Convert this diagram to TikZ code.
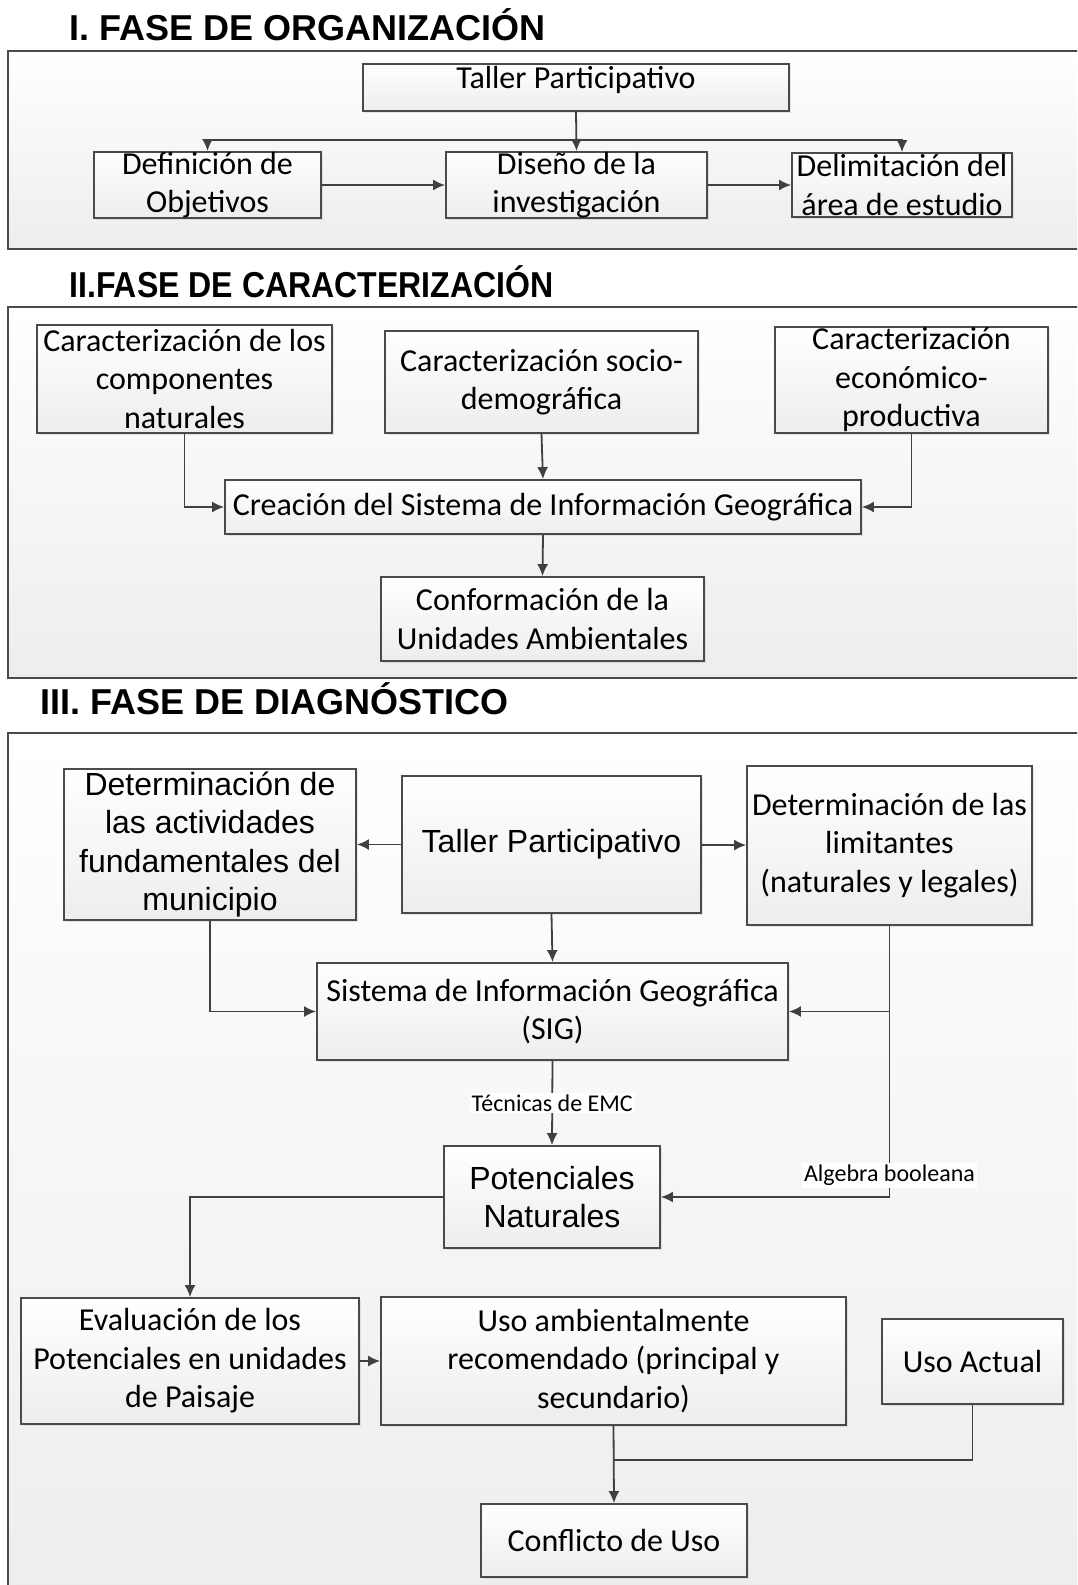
\documentclass[tikz,border=0pt]{standalone}
\usepackage{fontspec}
\setmainfont{Carlito}
\newfontfamily\arialfont{Liberation Sans}
\usetikzlibrary{arrows.meta,shadows}
\definecolor{linegray}{HTML}{404040}
\definecolor{boxedge}{HTML}{4A4A4A}
\tikzset{
  caja/.style={draw=boxedge, line width=0.9pt, top color=white, bottom color=black!7,
    align=center, inner sep=0pt, font=\fontsize{16}{19.25}\selectfont,
    drop shadow={opacity=0.18, shadow xshift=1pt, shadow yshift=-1pt}},
  cajaarial/.style={caja, font=\arialfont\fontsize{16}{19.25}\selectfont},
  marco/.style={draw=boxedge, line width=0.9pt, top color=white, bottom color=black!7},
  flecha/.style={draw=linegray, line width=0.9pt, -{Latex[length=6pt,width=5.5pt]}},
  linea/.style={draw=linegray, line width=0.9pt},
  titulo/.style={anchor=base west, inner sep=0pt, font=\arialfont\bfseries\fontsize{18}{21}\selectfont},
  etiqueta/.style={fill=white, inner sep=1pt, font=\fontsize{12}{14}\selectfont}
}
\begin{document}
\begin{tikzpicture}[x=0.5pt,y=-0.5pt]
\useasboundingbox (0,0) rectangle (1077,1585);
\clip (0,0) rectangle (1077,1585);

\draw[marco] (8,51) rectangle (1090,249);
\draw[marco] (8,307) rectangle (1090,678);
\draw[marco] (8,733) rectangle (1090,1600);

\draw (69,40) node[titulo] (tituloA) {I. FASE DE ORGANIZACIÓN};
\draw (69,297) node[titulo] (tituloB) {\scalebox{0.89}[1]{II.FASE DE CARACTERIZACIÓN}};
\draw (40,714) node[titulo] (tituloC) {III. FASE DE DIAGNÓSTICO};

\draw (576,87.5) node[caja,minimum width=213pt,text height=12pt,text depth=11.5pt] (tallerA) {Taller Participativo};
\draw (207.5,185) node[caja,minimum width=113.5pt,minimum height=32pt] (objetivos) {Definición de\\Objetivos};
\draw (576.5,185) node[caja,minimum width=130.5pt,minimum height=32pt] (diseno) {Diseño de la\\investigación};
\draw (902,185) node[caja,minimum width=110pt,minimum height=32pt] (area) {Delimitación del\\área de estudio};
\coordinate (reparto) at (576,140);
\draw[flecha] (tallerA.south) -- (diseno.north);
\draw[flecha] (reparto) -| (objetivos.north);
\draw[flecha] (reparto) -| (area.north);
\draw[flecha] (objetivos) -- (diseno);
\draw[flecha] (diseno) -- (area);

\draw (184.5,379) node[caja,minimum width=147.5pt,minimum height=54pt] (naturales) {Caracterización de los\\componentes\\naturales};
\draw (541.5,382) node[caja,minimum width=156.5pt,minimum height=51pt] (socio) {Caracterización socio-\\demográfica};
\draw (911.5,380) node[caja,minimum width=136.5pt,minimum height=53pt] (economico) {Caracterización\\económico-\\productiva};
\draw (543,507) node[caja,minimum width=318pt,minimum height=27pt] (creacion) {Creación del Sistema de Información Geográfica};
\draw (542.5,619) node[caja,minimum width=161.5pt,minimum height=42pt] (unidades) {Conformación de la\\Unidades Ambientales};
\draw[flecha] (naturales.south) |- (creacion.west);
\draw[flecha] (socio.south) -- (creacion.north);
\draw[flecha] (economico.south) |- (creacion.east);
\draw[flecha] (creacion.south) -- (unidades.north);

\draw (210,844.5) node[cajaarial,minimum width=146pt,minimum height=75.5pt] (actividades) {Determinación de\\las actividades\\fundamentales del\\municipio};
\draw (551.5,844.5) node[cajaarial,minimum width=149.5pt,minimum height=68.5pt] (tallerB) {Taller Participativo};
\draw (889.5,845.5) node[caja,minimum width=142.5pt,minimum height=79.5pt] (limitantes) {Determinación de las\\limitantes\\(naturales y legales)};
\draw (552.5,1011.5) node[caja,minimum width=235.5pt,minimum height=48.5pt] (sig) {Sistema de Información Geográfica\\(SIG)};
\draw (552,1197) node[cajaarial,minimum width=108pt,minimum height=51pt] (potenciales) {Potenciales\\Naturales};
\draw (190,1361) node[caja,minimum width=169pt,minimum height=63pt] (evaluacion) {Evaluación de los\\Potenciales en unidades\\de Paisaje};
\draw (613.5,1361) node[caja,minimum width=232.5pt,minimum height=64pt] (recomendado) {Uso ambientalmente\\recomendado (principal y\\secundario)};
\draw (972.5,1361.5) node[caja,minimum width=90.5pt,minimum height=42.5pt] (actual) {Uso Actual};
\draw (614,1540.5) node[caja,minimum width=133pt,minimum height=36.5pt] (conflicto) {Conflicto de Uso};
\coordinate (union) at (613.5,1460);
\draw[flecha] (tallerB) -- (actividades);
\draw[flecha] (tallerB) -- (limitantes);
\draw[flecha] (tallerB.south) -- (sig.north);
\draw[flecha] (actividades.south) |- (sig.west);
\draw[flecha] (limitantes.south) |- node[etiqueta,pos=0.46] {Algebra booleana} (potenciales.east);
\draw[flecha] (limitantes.south |- sig.east) -- (sig.east);
\draw[flecha] (sig.south) -- node[etiqueta] {Técnicas de EMC} (potenciales.north);
\draw[flecha] (potenciales.west) -| (evaluacion.north);
\draw[flecha] (evaluacion) -- (recomendado);
\draw[flecha] (recomendado.south) -- (conflicto.north);
\draw[linea] (actual.south) |- (union);
\end{tikzpicture}
\end{document}
